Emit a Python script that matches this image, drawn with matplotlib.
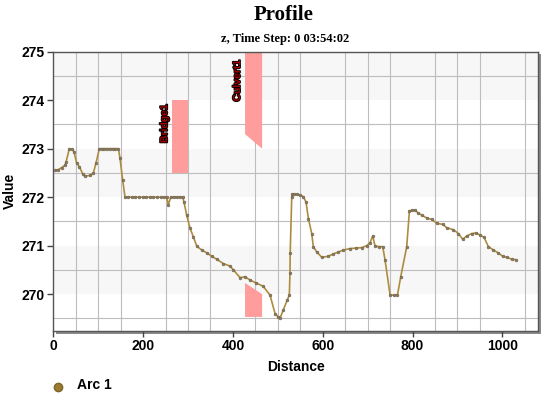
import matplotlib
matplotlib.use("Agg")
import matplotlib.pyplot as plt
from matplotlib.patches import Rectangle, Polygon
import matplotlib.patheffects as pe

# ---- data ----
distance = [3.8, 11.3, 18.7, 26, 28.3, 35.7, 41, 46, 52, 58, 65.5, 70.6, 81.7, 89, 95,
            102.5, 108, 114, 120, 126, 132, 138, 145, 148.5, 154.5, 159.7, 167, 175, 183,
            191, 199, 207, 215, 223, 231, 239, 247, 252.5, 256, 261.5, 268, 275, 282, 288,
            291, 297, 304.5, 312, 319.4, 330.5, 342, 352.8,
            364, 378.6, 393.5, 401, 416, 427, 438, 452, 467.7, 482.6, 493.8, 501, 505,
            512, 521, 525.6, 527, 527.5, 531, 532.3, 537, 542, 550, 556.8, 562.8, 568, 575.5, 579,
            586.6, 597.8, 612.5, 623.6, 635, 646, 660.8, 675, 686.8, 698, 705.4, 711.3,
            716.5, 725, 733.6, 738.8, 750, 758, 766.3, 773.7, 787, 793, 799, 805.6, 813, 820.5, 831.6,
            842.7, 853.9, 867, 876, 890.8, 902, 911.7, 920.7, 931.8, 941.4, 950.3, 959.2,
            968.8, 980, 991, 1000.8, 1009.8, 1021, 1030.5]
value = [272.55, 272.57, 272.61, 272.66, 272.72, 273.0, 272.99, 272.94, 272.70, 272.63,
         272.48, 272.43, 272.45, 272.49, 272.70,
         273.0, 273.0, 273.0, 273.0, 273.0, 273.0, 273.0, 273.0,
         272.8, 272.35, 272.0, 272.0, 272.0, 272.0,
         272.0, 272.0, 272.0, 272.0, 272.0, 272.0, 272.0, 272.0, 272.0, 271.84,
         272.0, 272.0, 272.0, 272.0, 272.0,
         271.9, 271.63, 271.36, 271.18, 270.99, 270.91, 270.85,
         270.78, 270.72, 270.63, 270.58, 270.5, 270.34, 270.36, 270.29, 270.23, 270.16,
         269.98, 269.60, 269.53, 269.51, 269.67, 269.88, 269.98, 270.43, 270.84, 272.01,
         272.06, 272.06, 272.06, 272.04, 272.01, 271.90, 271.56, 271.25, 270.98, 270.87, 270.76, 270.78,
         270.83, 270.87, 270.91, 270.94, 270.95, 270.96, 271.0, 271.06, 271.2, 270.99,
         270.98, 270.98, 270.70, 269.98, 269.98, 269.98, 270.36, 270.98, 271.72, 271.73, 271.73, 271.67, 271.63,
         271.57, 271.54, 271.46, 271.44, 271.37, 271.33, 271.25, 271.13, 271.20, 271.25,
         271.26, 271.22, 271.17, 270.98, 270.91, 270.85, 270.78, 270.76, 270.72, 270.71]

structures = ["Bridge1", "Culvert1"]
bridge_x = [265, 300]
bridge_y = [272.5, 274.0]
culvert_x = [427, 465]
culvert_top = [275.0, 273.3, 273.0]       # top, bottom-left, bottom-right of upper block
culvert_bottom = [269.53, 270.23, 270.0]  # bottom, top-left, top-right of lower block

x_ticks = [0, 200, 400, 600, 800, 1000]
y_ticks = [270, 271, 272, 273, 274, 275]
series_name = "Arc 1"
title = "Profile"
subtitle = "z, Time Step: 0 03:54:02"

# ---- figure ----
W, H = 550, 396
fig = plt.figure(figsize=(W / 100, H / 100), dpi=100)
fig.patch.set_facecolor("white")
left, right, top, bottom = 53.3, 538.3, 51.7, 331.0
ax = fig.add_axes([left / W, 1 - bottom / H, (right - left) / W, (bottom - top) / H])
ax.set_zorder(2)

# shadow
shadow = Rectangle(((left + 2.5) / W, 1 - (bottom + 2.5) / H), (right - left) / W,
                   (bottom - top) / H, transform=fig.transFigure,
                   facecolor="#8a8a8a", edgecolor="none", zorder=1)
fig.patches.append(shadow)

ax.set_xlim(0, 1080)
ax.set_ylim(269.24, 275)
ax.set_facecolor("white")
for y0 in [270, 272, 274]:
    ax.axhspan(y0, y0 + 1, color="#f7f7f7", zorder=0, lw=0)

ax.set_xticks([v for v in range(0, 1081, 50)], minor=True)
ax.set_yticks([269.5 + 0.5 * i for i in range(12)], minor=True)
ax.grid(True, which="minor", color="#bdbdbd", lw=0.8, zorder=1)
ax.tick_params(which="minor", length=0)
ax.set_xticks(x_ticks)
ax.set_yticks(y_ticks)
ax.tick_params(which="major", length=4, width=1, color="#444444", pad=2)
for lab in ax.get_xticklabels() + ax.get_yticklabels():
    lab.set_fontfamily("Liberation Sans")
    lab.set_fontweight("bold")
    lab.set_fontsize(10)
for s in ax.spines.values():
    s.set_color("#555555")
    s.set_linewidth(1.0)

# structures
pink = "#ff9c9c"
ax.add_patch(Rectangle((bridge_x[0], bridge_y[0]), bridge_x[1] - bridge_x[0],
                       bridge_y[1] - bridge_y[0], facecolor=pink, edgecolor="none", zorder=2))
ax.add_patch(Polygon([(culvert_x[0], culvert_top[0]), (culvert_x[1], culvert_top[0]),
                      (culvert_x[1], culvert_top[2]), (culvert_x[0], culvert_top[1])],
                     closed=True, facecolor=pink, edgecolor="none", zorder=2))
ax.add_patch(Polygon([(culvert_x[0], culvert_bottom[0]), (culvert_x[1], culvert_bottom[0]),
                      (culvert_x[1], culvert_bottom[2]), (culvert_x[0], culvert_bottom[1])],
                     closed=True, facecolor=pink, edgecolor="none", zorder=2))
outline = [pe.withStroke(linewidth=1.3, foreground="black")]
ax.text(bridge_x[0] - 18, bridge_y[1] - 0.08, structures[0], rotation=90, ha="center", va="top",
        fontsize=7.5, fontweight="bold", family="Liberation Sans", color="#a00000", zorder=4,
        path_effects=outline)
ax.text(culvert_x[0] - 18, culvert_top[0] - 0.17, structures[1], rotation=90, ha="center", va="top",
        fontsize=7.5, fontweight="bold", family="Liberation Sans", color="#a00000", zorder=4,
        path_effects=outline)

# series
ax.plot(distance, value, color="#ad8c3e", lw=1.2, marker="o", ms=2.0,
        mfc="#8b7c62", mec="#6e604a", mew=0.4, zorder=3)

# titles and labels
fig.text(284 / W, 1 - 15 / H, title, ha="center", va="center", family="Liberation Serif",
         fontweight="bold", fontsize=15)
fig.text(285 / W, 1 - 39 / H, subtitle, ha="center", va="center", family="Liberation Serif",
         fontweight="bold", fontsize=9)
fig.text(10 / W, 1 - 191 / H, "Value", rotation=90, ha="center", va="center",
         family="Liberation Sans", fontweight="bold", fontsize=10)
fig.text(296 / W, 1 - 367 / H, "Distance", ha="center", va="center",
         family="Liberation Sans", fontweight="bold", fontsize=10)

# legend
fig.lines.append(plt.Line2D([58 / W], [1 - 387 / H], transform=fig.transFigure, marker="o",
                            ms=6, mfc="#9a7a30", mec="#806428", lw=0))
fig.text(77 / W, 1 - 385 / H, series_name, ha="left", va="center",
         family="Liberation Sans", fontweight="bold", fontsize=10)

fig.savefig("out.png", dpi=100, facecolor="white")
